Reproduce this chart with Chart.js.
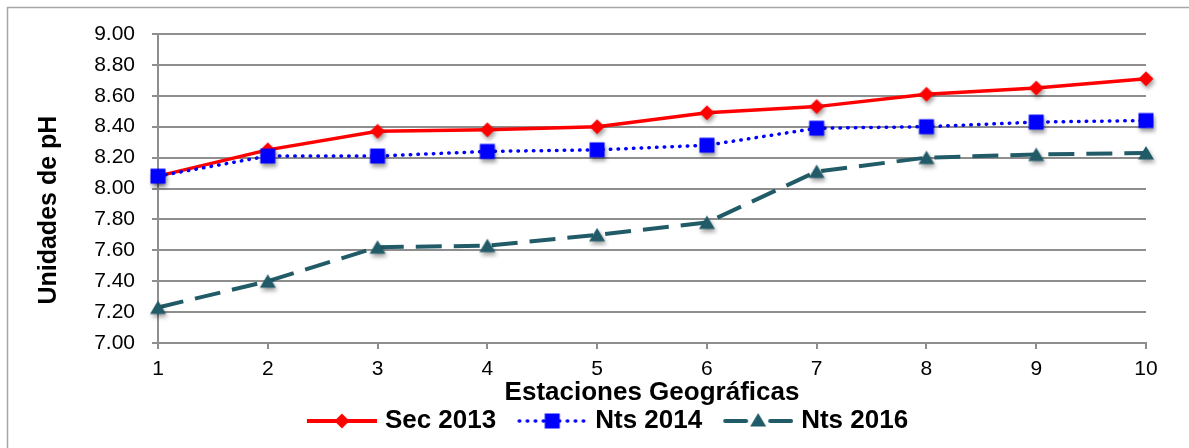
<!DOCTYPE html>
<html>
<head>
<meta charset="utf-8">
<script src="https://cdn.jsdelivr.net/npm/chart.js@4/dist/chart.umd.min.js"></script>
<style>
  html, body { margin: 0; padding: 0; background: #ffffff; }
  #wrap { width: 1189px; height: 448px; }
</style>
</head>
<body>
<div id="wrap"><canvas id="c" width="1189" height="448"></canvas></div>
<script>
// Estaciones geográficas (eje X)
const estaciones = ['1', '2', '3', '4', '5', '6', '7', '8', '9', '10'];

// Valores de pH por campaña
const sec2013 = [8.08, 8.25, 8.37, 8.38, 8.40, 8.49, 8.53, 8.61, 8.65, 8.71];
const nts2014 = [8.08, 8.21, 8.21, 8.24, 8.25, 8.28, 8.39, 8.40, 8.43, 8.44];
const nts2016 = [7.23, 7.40, 7.62, 7.63, 7.70, 7.78, 8.11, 8.20, 8.22, 8.23];

// Nombres de las series y títulos de los ejes
const seriesNames = ['Sec 2013', 'Nts 2014', 'Nts 2016'];
const xTitle = 'Estaciones Geográficas';
const yTitle = 'Unidades de pH';

// Eje Y
const yMin = 7.0, yMax = 9.0, yStep = 0.2;

const RED = '#ff0000';
const BLUE = '#0000ff';
const TEAL = '#215b68';
const GRID = '#8e8e8e';
const FONT = "'Liberation Sans', Arial, Helvetica, sans-serif";

Chart.defaults.font.family = FONT;
Chart.defaults.color = '#000000';

// Formas de marcador dibujadas sobre un contexto 2D, centradas en (x, y)
function drawMarker(g, kind, x, y, color) {
  g.fillStyle = color;
  g.beginPath();
  if (kind === 'diamond') {
    g.moveTo(x - 7.5, y); g.lineTo(x, y - 7.5); g.lineTo(x + 7.5, y); g.lineTo(x, y + 7.5);
  } else if (kind === 'square') {
    g.rect(x - 7.5, y - 7.5, 15, 15);
  } else {
    g.moveTo(x, y - 7); g.lineTo(x + 8, y + 6.5); g.lineTo(x - 8, y + 6.5);
  }
  g.closePath();
  g.fill();
}

// Marcador con sombra suave, usado como pointStyle de cada serie
function markerImage(kind, color) {
  const c = document.createElement('canvas');
  c.width = 34; c.height = 34;
  const g = c.getContext('2d');
  g.shadowColor = 'rgba(0,0,0,0.38)';
  g.shadowBlur = 4;
  g.shadowOffsetX = 1.5;
  g.shadowOffsetY = 3;
  drawMarker(g, kind, 17, 17, color);
  return c;
}

// Muestra de leyenda: trazo de línea con su marcador en el centro
function legendIcon(kind) {
  const c = document.createElement('canvas');
  c.width = 92; c.height = 24;
  const g = c.getContext('2d');
  const y = 12, x0 = 22, x1 = 92, xm = 57;
  if (kind === 'diamond') {
    g.strokeStyle = RED; g.lineWidth = 4;
    g.beginPath(); g.moveTo(x0, y); g.lineTo(x1, y); g.stroke();
    drawMarker(g, kind, xm, y, RED);
  } else if (kind === 'square') {
    g.strokeStyle = BLUE; g.lineWidth = 3.5; g.lineCap = 'round';
    g.setLineDash([0.5, 7.5]);
    g.beginPath(); g.moveTo(x0 + 2, y); g.lineTo(x1 - 2, y); g.stroke();
    g.setLineDash([]);
    drawMarker(g, kind, xm, y, BLUE);
  } else {
    g.strokeStyle = TEAL; g.lineWidth = 4; g.lineCap = 'round';
    g.beginPath(); g.moveTo(x0 + 2, y); g.lineTo(xm - 12, y); g.stroke();
    g.beginPath(); g.moveTo(xm + 12, y); g.lineTo(x1 - 2, y); g.stroke();
    drawMarker(g, kind, xm, y - 1, TEAL);
  }
  return c;
}
const legendIcons = [legendIcon('diamond'), legendIcon('square'), legendIcon('triangle')];

// Marco exterior, fondo blanco y título vertical del eje Y
const framePlugin = {
  id: 'frame',
  beforeDraw(chart) {
    const ctx = chart.ctx;
    ctx.save();
    ctx.fillStyle = '#ffffff';
    ctx.fillRect(0, 0, chart.width, chart.height);
    ctx.strokeStyle = '#a6a6a6';
    ctx.lineWidth = 1.5;
    ctx.beginPath();
    ctx.moveTo(7.5, chart.height + 2);
    ctx.lineTo(7.5, 7.5);
    ctx.lineTo(chart.width + 2, 7.5);
    ctx.stroke();
    ctx.restore();
  },
  afterDraw(chart) {
    const ctx = chart.ctx;
    const area = chart.chartArea;
    ctx.save();
    ctx.translate(49, area.top + (area.bottom - area.top) * 0.57);
    ctx.rotate(-Math.PI / 2);
    ctx.font = 'bold 25px ' + FONT;
    ctx.fillStyle = '#000';
    ctx.textAlign = 'center';
    ctx.textBaseline = 'middle';
    ctx.fillText(yTitle, 0, 0);
    ctx.restore();
  }
};

new Chart(document.getElementById('c'), {
  type: 'line',
  data: {
    labels: estaciones,
    datasets: [
      {
        label: seriesNames[0],
        data: sec2013,
        borderColor: RED,
        backgroundColor: RED,
        borderWidth: 3.5,
        pointStyle: markerImage('diamond', RED),
        pointRadius: 8,
        tension: 0,
        order: 2
      },
      {
        label: seriesNames[1],
        data: nts2014,
        borderColor: BLUE,
        backgroundColor: BLUE,
        borderWidth: 3.5,
        borderDash: [0.5, 7.2],
        borderCapStyle: 'round',
        pointStyle: markerImage('square', BLUE),
        pointRadius: 8,
        tension: 0,
        order: 1
      },
      {
        label: seriesNames[2],
        data: nts2016,
        borderColor: TEAL,
        backgroundColor: TEAL,
        borderWidth: 4,
        borderDash: [26, 12],
        pointStyle: markerImage('triangle', TEAL),
        pointRadius: 8,
        tension: 0,
        order: 3
      }
    ]
  },
  options: {
    responsive: false,
    maintainAspectRatio: false,
    devicePixelRatio: 1,
    animation: false,
    events: [],
    layout: { autoPadding: false, padding: { left: 52, right: 43, top: 34, bottom: 4 } },
    scales: {
      x: {
        type: 'category',
        offset: false,
        grid: { drawOnChartArea: false, drawTicks: true, tickLength: 6, color: GRID, lineWidth: 2 },
        border: { display: true, color: GRID, width: 2 },
        ticks: { font: { size: 21, lineHeight: 1 }, color: '#000', padding: 9.5, maxRotation: 0, autoSkip: false },
        title: {
          display: true,
          text: xTitle,
          color: '#000',
          font: { size: 26, weight: 'bold', lineHeight: 1 },
          padding: { top: -9, bottom: -2 }
        }
      },
      y: {
        min: yMin,
        max: yMax,
        grid: { color: GRID, lineWidth: 2, tickLength: 6, drawTicks: true },
        border: { display: true, color: GRID, width: 2 },
        ticks: {
          stepSize: yStep,
          font: { size: 21 },
          color: '#000',
          padding: 17,
          callback: (v) => Number(v).toFixed(2)
        },
        title: { display: false, text: yTitle },
        afterFit(scale) { scale.width = 106; }
      }
    },
    plugins: {
      tooltip: { enabled: false },
      legend: {
        display: true,
        position: 'bottom',
        labels: {
          usePointStyle: true,
          pointStyleWidth: 82,
          padding: 4,
          color: '#000',
          font: { size: 26, weight: 'bold' },
          generateLabels(chart) {
            const items = Chart.defaults.plugins.legend.labels.generateLabels(chart);
            items.sort((a, b) => a.datasetIndex - b.datasetIndex);
            items.forEach((it) => { it.pointStyle = legendIcons[it.datasetIndex]; });
            return items;
          }
        }
      }
    }
  },
  plugins: [framePlugin]
});
</script>
</body>
</html>
